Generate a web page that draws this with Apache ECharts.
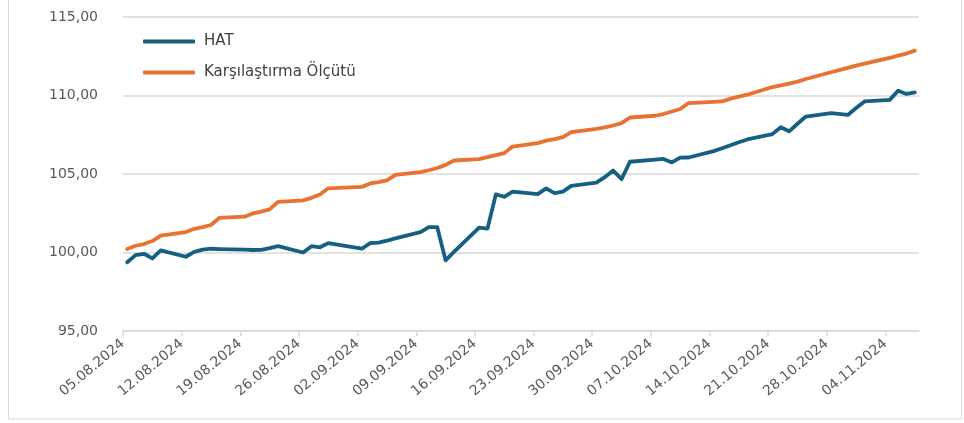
<!DOCTYPE html>
<html>
<head>
<meta charset="utf-8">
<script src="https://cdn.jsdelivr.net/npm/echarts@6/dist/echarts.min.js"></script>
<style>
  html, body { margin: 0; padding: 0; background: #fff; }
  #chart { width: 964px; height: 423px; }
</style>
</head>
<body>
<div id="chart"></div>
<script>
// işlem günleri (hafta sonu ve 30.08 / 29.10 tatilleri yok)
const dates = [
  '05.08.2024', '06.08.2024', '07.08.2024', '08.08.2024', '09.08.2024',
  '12.08.2024', '13.08.2024', '14.08.2024', '15.08.2024', '16.08.2024',
  '19.08.2024', '20.08.2024', '21.08.2024', '22.08.2024', '23.08.2024',
  '26.08.2024', '27.08.2024', '28.08.2024', '29.08.2024',
  '02.09.2024', '03.09.2024', '04.09.2024', '05.09.2024', '06.09.2024',
  '09.09.2024', '10.09.2024', '11.09.2024', '12.09.2024', '13.09.2024',
  '16.09.2024', '17.09.2024', '18.09.2024', '19.09.2024', '20.09.2024',
  '23.09.2024', '24.09.2024', '25.09.2024', '26.09.2024', '27.09.2024',
  '30.09.2024', '01.10.2024', '02.10.2024', '03.10.2024', '04.10.2024',
  '07.10.2024', '08.10.2024', '09.10.2024', '10.10.2024', '11.10.2024',
  '14.10.2024', '15.10.2024', '16.10.2024', '17.10.2024', '18.10.2024',
  '21.10.2024', '22.10.2024', '23.10.2024', '24.10.2024', '25.10.2024',
  '28.10.2024', '30.10.2024', '31.10.2024', '01.11.2024',
  '04.11.2024', '05.11.2024', '06.11.2024', '07.11.2024'
]

const hatValues = [
  99.38, 99.83, 99.92, 99.62, 100.13,
  99.73, 100.04, 100.18, 100.24, 100.22,
  100.18, 100.16, 100.17, 100.28, 100.41,
  100.00, 100.40, 100.33, 100.60,
  100.24, 100.60, 100.63, 100.75, 100.90,
  101.30, 101.62, 101.62, 99.50, 100.04,
  101.58, 101.52, 103.70, 103.55, 103.88,
  103.72, 104.08, 103.78, 103.88, 104.24,
  104.45, 104.80, 105.22, 104.67, 105.78,
  105.92, 105.96, 105.74, 106.04, 106.05,
  106.46, 106.64, 106.83, 107.02, 107.20,
  107.54, 107.98, 107.72, 108.20, 108.66,
  108.88, 108.76, 109.20, 109.62,
  109.72, 110.30, 110.10, 110.20
]

const benchmarkValues = [
  100.22, 100.43, 100.54, 100.73, 101.08,
  101.30, 101.51, 101.62, 101.75, 102.20,
  102.28, 102.49, 102.60, 102.75, 103.22,
  103.32, 103.48, 103.70, 104.09,
  104.18, 104.40, 104.48, 104.60, 104.94,
  105.12, 105.24, 105.38, 105.58, 105.86,
  105.95, 106.07, 106.20, 106.33, 106.75,
  106.97, 107.13, 107.22, 107.35, 107.67,
  107.88, 107.97, 108.09, 108.24, 108.60,
  108.71, 108.82, 108.98, 109.14, 109.52,
  109.60, 109.62, 109.80, 109.93, 110.05,
  110.54, 110.64, 110.76, 110.88, 111.05,
  111.48, 111.76, 111.90, 112.03,
  112.39, 112.54, 112.67, 112.86
]

const tickLabels = [
  '05.08.2024', '12.08.2024', '19.08.2024', '26.08.2024', '02.09.2024',
  '09.09.2024', '16.09.2024', '23.09.2024', '30.09.2024', '07.10.2024',
  '14.10.2024', '21.10.2024', '28.10.2024', '04.11.2024'
]

const seriesNames = ['HAT', 'Karşılaştırma Ölçütü']

// gün sayısı (05.08.2024'ten itibaren)
const DAY = 86400000
function toDay(s) {
  const p = s.split('.')
  return Date.UTC(+p[2], +p[1] - 1, +p[0])
}
const startDay = toDay(dates[0])
const dayOf = s => (toDay(s) - startDay) / DAY
const axisMax = dayOf(dates[dates.length - 1]) + 1 // her gün bir aralık

// noktalar gün aralığının ortasında
const hatData = dates.map((d, i) => [dayOf(d) + 0.5, hatValues[i]])
const benchData = dates.map((d, i) => [dayOf(d) + 0.5, benchmarkValues[i]])
const tickValues = tickLabels.map(dayOf)

function fmtDay(v) {
  const t = new Date(startDay + v * DAY)
  const dd = String(t.getUTCDate()).padStart(2, '0')
  const mm = String(t.getUTCMonth() + 1).padStart(2, '0')
  return dd + '.' + mm + '.' + t.getUTCFullYear()
}

const chart = echarts.init(document.getElementById('chart'))

const option = {
  animation: false,
  textStyle: { fontFamily: 'DejaVu Sans' },
  graphic: [
    {
      type: 'rect',
      shape: { x: 8.5, y: -2, width: 953, height: 421 },
      style: { fill: 'none', stroke: '#d9d9d9', lineWidth: 1 },
      silent: true
    }
  ],
  grid: {
    left: 123,
    right: 45,
    top: 17,
    bottom: 92
  },
  legend: {
    orient: 'vertical',
    left: 143,
    top: 34,
    padding: 0,
    itemWidth: 52,
    itemHeight: 4,
    itemGap: 16,
    icon: 'roundRect',
    data: seriesNames,
    textStyle: {
      color: '#404040',
      fontSize: 15,
      fontFamily: 'DejaVu Sans',
      padding: [0, 0, 0, 4]
    }
  },
  xAxis: {
    type: 'value',
    min: 0,
    max: axisMax,
    splitLine: { show: false },
    axisLine: {
      show: true,
      lineStyle: { color: '#d9d9d9', width: 1.5 }
    },
    axisTick: {
      show: true,
      length: 5,
      customValues: tickValues,
      lineStyle: { color: '#d9d9d9', width: 1.5 }
    },
    axisLabel: {
      customValues: tickValues,
      rotate: 40,
      margin: 11,
      color: '#595959',
      fontSize: 14,
      fontFamily: 'DejaVu Sans',
      formatter: function (v) {
        return fmtDay(v)
      }
    }
  },
  yAxis: {
    type: 'value',
    min: 95,
    max: 115,
    interval: 5,
    axisLine: { show: false },
    axisTick: { show: false },
    axisLabel: {
      margin: 25,
      color: '#595959',
      fontSize: 14,
      fontFamily: 'DejaVu Sans',
      formatter: function (v) {
        return v.toFixed(2).replace('.', ',')
      }
    },
    splitLine: {
      lineStyle: { color: '#d9d9d9', width: 1.5 }
    }
  },
  series: [
    {
      name: seriesNames[0],
      type: 'line',
      data: hatData,
      showSymbol: false,
      symbol: 'none',
      color: '#156082',
      lineStyle: { width: 3.8, color: '#156082', cap: 'round', join: 'round' }
    },
    {
      name: seriesNames[1],
      type: 'line',
      data: benchData,
      showSymbol: false,
      symbol: 'none',
      color: '#E97132',
      lineStyle: { width: 3.8, color: '#E97132', cap: 'round', join: 'round' }
    }
  ]
}

chart.setOption(option)
</script>
</body>
</html>
